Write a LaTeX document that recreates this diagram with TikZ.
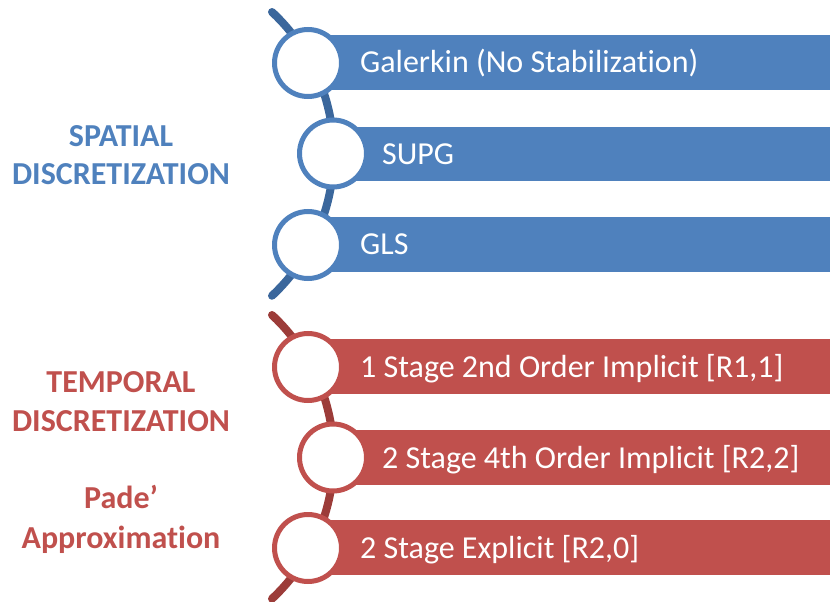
\documentclass[tikz,border=0pt]{standalone}
\usepackage{fontspec}
\setmainfont[Ligatures=NoCommon]{Carlito}
\definecolor{blueBar}{HTML}{4F81BD}
\definecolor{blueSpine}{HTML}{3B679C}
\definecolor{redBar}{HTML}{C0504D}
\definecolor{redSpine}{HTML}{9C3C39}
\tikzset{
  spine/.style={line width=8pt, line cap=round},
  ring/.style={circle, fill=white, line width=5pt, minimum size=67pt, inner sep=0pt},
  bartext/.style={anchor=base west, text=white, font=\fontsize{32}{38}\selectfont, inner sep=0pt},
  grouptitle/.style={anchor=base, font=\fontsize{32}{38}\selectfont\bfseries, inner sep=0pt}
}
\begin{document}
\begin{tikzpicture}[x=1pt,y=1pt]
\useasboundingbox (0,0) rectangle (830,-602);

% ---- spatial discretization ----
\coordinate (bs0) at (272,-12);
\draw[spine, blueSpine] (bs0) arc[start angle=47, end angle=-47, radius=194pt] coordinate (bs1);

\fill[blueBar] (308,-35) rectangle (830,-90);
\fill[blueBar] (333,-127) rectangle (830,-181);
\fill[blueBar] (308,-217) rectangle (830,-272);

\node[ring, draw=blueBar] (b1) at (308,-63) {};
\node[ring, draw=blueBar] (b2) at (333,-153.5) {};
\node[ring, draw=blueBar] (b3) at (308,-245) {};

\node[bartext] (tb1) at (360,-72.5) {Galerkin (No Stabilization)};
\node[bartext] (tb2) at (382,-164) {SUPG};
\node[bartext] (tb3) at (360,-254.5) {GLS};

\node[grouptitle, text=blueBar] (ls1) at (121,-146) {SPATIAL};
\node[grouptitle, text=blueBar] (ls2) at (121,-184.5) {DISCRETIZATION};

% ---- temporal discretization ----
\coordinate (rs0) at (272,-315);
\draw[spine, redSpine] (rs0) arc[start angle=47, end angle=-47, radius=194pt] coordinate (rs1);

\fill[redBar] (308,-339) rectangle (830,-394);
\fill[redBar] (333,-430) rectangle (830,-485);
\fill[redBar] (308,-520) rectangle (830,-575);

\node[ring, draw=redBar] (r1) at (308,-367) {};
\node[ring, draw=redBar] (r2) at (333,-457.5) {};
\node[ring, draw=redBar] (r3) at (308,-548) {};

\node[bartext] (tr1) at (360,-377) {1 Stage 2nd Order Implicit [R1,1]};
\node[bartext] (tr2) at (382,-468) {2 Stage 4th Order Implicit [R2,2]};
\node[bartext] (tr3) at (360,-558) {2 Stage Explicit [R2,0]};

\node[grouptitle, text=redBar] (lt1) at (121,-392) {TEMPORAL};
\node[grouptitle, text=redBar] (lt2) at (121,-431) {DISCRETIZATION};
\node[grouptitle, text=redBar] (lt3) at (121,-508) {Pade’};
\node[grouptitle, text=redBar] (lt4) at (121,-548) {Approximation};
\end{tikzpicture}
\end{document}
